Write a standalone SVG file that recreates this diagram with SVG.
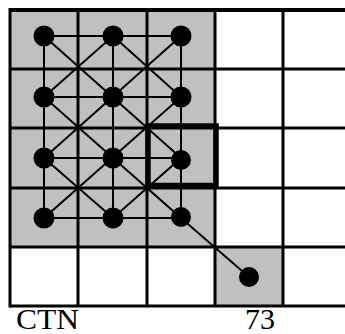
<svg xmlns="http://www.w3.org/2000/svg" width="345" height="334" viewBox="0 0 345 334">
<style>
.cell{fill:#c0c0c0;stroke:none}
.grid{stroke:#000;stroke-width:3;fill:none}
.conn{stroke:#000;stroke-width:2;fill:none}
.node{fill:#000}
.lbl{font-family:"Liberation Serif","Times New Roman",serif;font-size:30px;fill:#000}
</style>
<rect width="345" height="334" fill="#fff"/>
<g id="shading">
<rect class="cell" x="10" y="10" width="205" height="237"/>
<rect class="cell" x="215" y="247" width="68" height="59"/>
</g>
<g id="grid" class="grid">
<line x1="10" y1="10" x2="345" y2="10" stroke-width="4"/>
<line x1="10" y1="69" x2="345" y2="69"/>
<line x1="10" y1="128" x2="345" y2="128"/>
<line x1="10" y1="188" x2="345" y2="188"/>
<line x1="10" y1="247" x2="345" y2="247"/>
<line x1="10" y1="306" x2="345" y2="306"/>
<line x1="10" y1="8" x2="10" y2="307.5"/>
<line x1="78" y1="10" x2="78" y2="306"/>
<line x1="147" y1="10" x2="147" y2="306"/>
<line x1="215" y1="10" x2="215" y2="306"/>
<line x1="283" y1="10" x2="283" y2="306"/>
</g>
<g id="connectors" class="conn">
<path d="M44 36H181M44 97H181M44 158H181M44 218H181"/>
<path d="M44 36V218M113 36V218M181 36V218"/>
<path d="M44 36L181 158M113 36L181 97M44 97L181 218M44 158L113 218"/>
<path d="M181 36L44 158M113 36L44 97M181 97L44 218M181 158L113 218"/>
<path d="M181 218L249 277"/>
</g>
<rect id="highlight" x="148" y="126" width="68" height="59.5" fill="none" stroke="#000" stroke-width="5.5"/>
<g id="n11"><circle class="node" cx="44" cy="36" r="10.5"/></g>
<g id="n12"><circle class="node" cx="113" cy="36" r="10.5"/></g>
<g id="n13"><circle class="node" cx="181" cy="36" r="10.5"/></g>
<g id="n21"><circle class="node" cx="44" cy="97" r="10.5"/></g>
<g id="n22"><circle class="node" cx="113" cy="97" r="10.5"/></g>
<g id="n23"><circle class="node" cx="181" cy="97" r="10.5"/></g>
<g id="n31"><circle class="node" cx="44" cy="158" r="10.5"/></g>
<g id="n32"><circle class="node" cx="113" cy="158" r="10.5"/></g>
<g id="n33"><circle class="node" cx="181" cy="160" r="10"/></g>
<g id="n41"><circle class="node" cx="44" cy="218" r="10.5"/></g>
<g id="n42"><circle class="node" cx="113" cy="218" r="10.5"/></g>
<g id="n43"><circle class="node" cx="181" cy="217" r="10"/></g>
<g id="n73"><circle class="node" cx="249" cy="277" r="10"/></g>
<text class="lbl" x="16" y="329" textLength="63" lengthAdjust="spacingAndGlyphs">CTN</text>
<text class="lbl" x="245" y="329">73</text>
</svg>
